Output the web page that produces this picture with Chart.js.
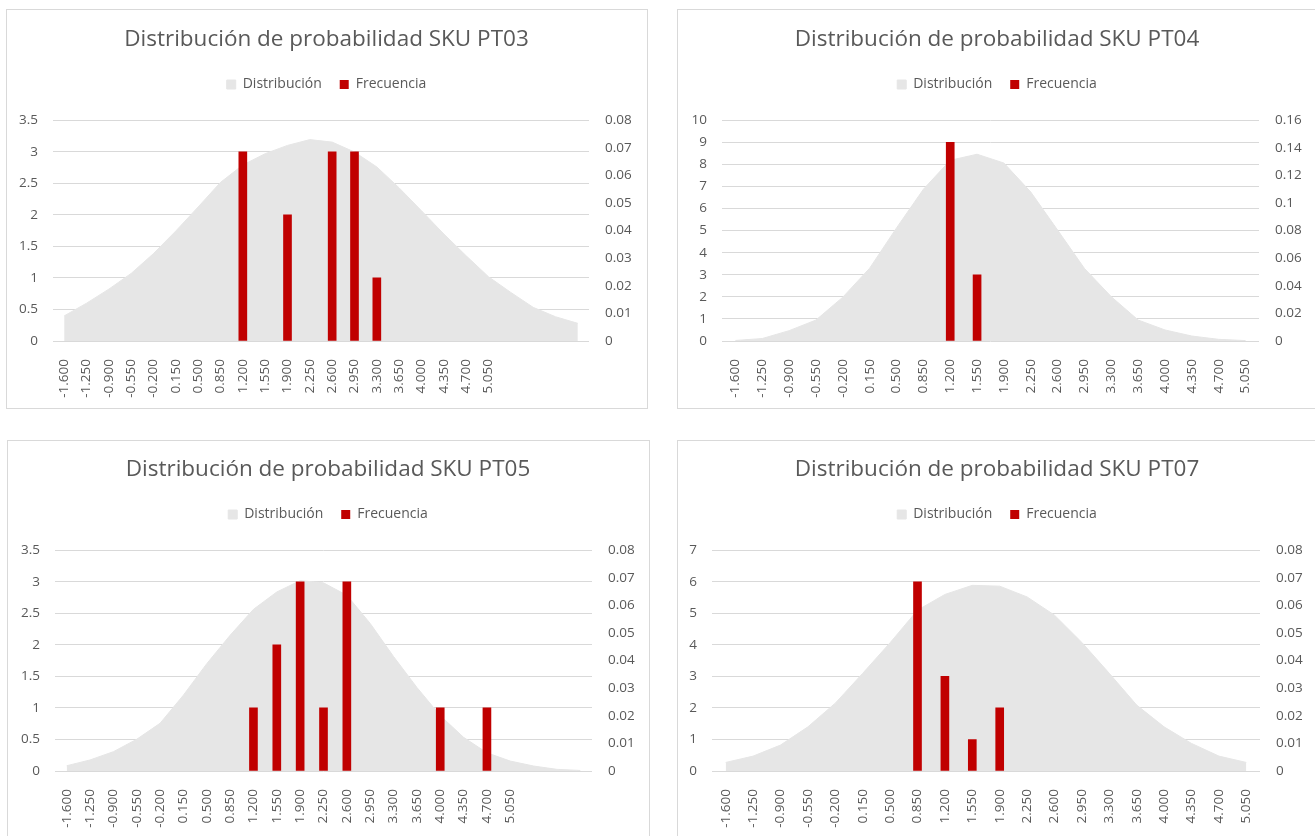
<!DOCTYPE html>
<html>
<head>
<meta charset="utf-8">
<script src="https://cdn.jsdelivr.net/npm/chart.js@4.4.1/dist/chart.umd.min.js"></script>
<style>
html,body{margin:0;padding:0;background:#ffffff;overflow:hidden;width:1315px;height:836px;}
.box{position:absolute;border:1px solid #D9D9D9;box-sizing:border-box;}
canvas{position:absolute;}
</style>
</head>
<body>
<div class="box" style="left:6px;top:9px;width:642px;height:400px"></div>
<div class="box" style="left:677px;top:9px;width:641px;height:400px"></div>
<div class="box" style="left:7px;top:440px;width:643px;height:400px"></div>
<div class="box" style="left:677px;top:440px;width:641px;height:400px"></div>
<canvas id="c1" width="639" height="397" style="left:7px;top:10px"></canvas>
<canvas id="c2" width="638" height="397" style="left:678px;top:10px"></canvas>
<canvas id="c3" width="640" height="397" style="left:8px;top:440px"></canvas>
<canvas id="c4" width="638" height="397" style="left:678px;top:440px"></canvas>
<script>
// ---- data ----
const xLabels = ['-1.600','-1.250','-0.900','-0.550','-0.200','0.150','0.500','0.850','1.200','1.550',
                 '1.900','2.250','2.600','2.950','3.300','3.650','4.000','4.350','4.700','5.050'];
const catsPT03 = [...xLabels, '', '', '', ''];
const catsPT04 = [...xLabels];
const catsPT05 = [...xLabels, '', '', ''];
const catsPT07 = [...xLabels];

const freqPT03 = [0,0,0,0,0,0,0,0,3,0,2,0,3,3,1,0,0,0,0,0];
const freqPT04 = [0,0,0,0,0,0,0,0,9,3,0,0,0,0,0,0,0,0,0,0];
const freqPT05 = [0,0,0,0,0,0,0,0,1,2,3,1,3,0,0,0,1,0,1,0];
const freqPT07 = [0,0,0,0,0,0,0,6,3,1,2,0,0,0,0,0,0,0,0,0];

const distPT03 = [0.0091,0.0137,0.0188,0.0245,0.0317,0.0399,0.0486,0.0575,0.0638,0.0679,0.0709,0.0730,
                  0.0721,0.0685,0.0631,0.0555,0.0472,0.0388,0.0309,0.0233,0.0176,0.0122,0.0088,0.0064];
const distPT04 = [0.0004,0.0018,0.0075,0.0152,0.0318,0.0528,0.0820,0.1100,0.1310,0.1354,
                  0.1290,0.1080,0.0804,0.0526,0.0321,0.0152,0.0080,0.0036,0.0012,0.0003];
const distPT05 = [0.0019,0.0040,0.0070,0.0115,0.0173,0.0275,0.0389,0.0492,0.0586,0.0649,0.0690,0.0682,
                  0.0637,0.0535,0.0415,0.0303,0.0201,0.0122,0.0066,0.0036,0.0018,0.0006,0.0002];
const distPT07 = [0.0031,0.0054,0.0094,0.0160,0.0246,0.0354,0.0465,0.0583,0.0640,0.0673,
                  0.0670,0.0631,0.0565,0.0466,0.0354,0.0239,0.0160,0.0100,0.0054,0.0031];

const titles = ['Distribución de probabilidad SKU PT03','Distribución de probabilidad SKU PT04',
                'Distribución de probabilidad SKU PT05','Distribución de probabilidad SKU PT07'];
const seriesNames = ['Distribución','Frecuencia'];

// ---- styles ----
const FONT = "'Open Sans', sans-serif";
const TXT = '#595959';
const GRID = '#D9D9D9';
const GREY = '#E6E6E6';
const RED = '#C00000';

const fmt = v => String(Number(v.toFixed(4)));

function makeChart(id, title, cats, freq, dist, yMax, yStep, y2Max, y2Step, leftW, rightW) {
  new Chart(document.getElementById(id), {
    type: 'bar',
    data: {
      labels: cats,
      datasets: [
        { type: 'line', label: seriesNames[0], data: dist, yAxisID: 'y2', fill: 'origin',
          backgroundColor: GREY, borderColor: GREY, borderWidth: 1, pointRadius: 0, tension: 0, order: 2 },
        { type: 'bar', label: seriesNames[1], data: freq.map(v => (v === 0 ? null : v)), yAxisID: 'y',
          backgroundColor: RED, barThickness: 8, order: 1 }
      ]
    },
    options: {
      responsive: false, animation: false, devicePixelRatio: 1,
      layout: { padding: 0 },
      plugins: {
        title: { display: true, text: title, color: TXT,
                 font: { family: FONT, size: 22.5, weight: 'normal' }, padding: { top: 16, bottom: 6.5 } },
        legend: { display: true, position: 'top',
                  labels: { color: TXT, font: { family: FONT, size: 14 }, boxWidth: 9, boxHeight: 9, padding: 18,
                            sort: (a, b) => a.datasetIndex - b.datasetIndex } },
        subtitle: { display: true, text: '', weight: 500, font: { size: 1 }, padding: { top: 17.6, bottom: 0 } },
        tooltip: { enabled: false }
      },
      scales: {
        x: { grid: { display: false }, border: { display: false },
             ticks: { color: TXT, font: { family: FONT, size: 13.5 }, minRotation: 90, maxRotation: 90,
                      autoSkip: false, padding: 10 },
             afterFit: s => { s.height = 66; } },
        y: { position: 'left', min: 0, max: yMax,
             ticks: { stepSize: yStep, color: TXT, font: { family: FONT, size: 13.5 }, padding: 15, callback: fmt },
             grid: { color: GRID, drawTicks: false }, border: { display: false },
             afterFit: s => { s.width = leftW; } },
        y2: { position: 'right', min: 0, max: y2Max,
              ticks: { stepSize: y2Step, color: TXT, font: { family: FONT, size: 13.5 }, padding: 16, callback: fmt },
              grid: { display: false, drawTicks: false }, border: { display: false },
              afterFit: s => { s.width = rightW; } }
      }
    }
  });
}

makeChart('c1', titles[0], catsPT03, freqPT03, distPT03, 3.5, 0.5, 0.08, 0.01, 46, 57);
makeChart('c2', titles[1], catsPT04, freqPT04, distPT04, 10, 1, 0.16, 0.02, 44, 57);
makeChart('c3', titles[2], catsPT05, freqPT05, distPT05, 3.5, 0.5, 0.08, 0.01, 47, 56);
makeChart('c4', titles[3], catsPT07, freqPT07, distPT07, 7, 1, 0.08, 0.01, 34, 56);
</script>
</body>
</html>
